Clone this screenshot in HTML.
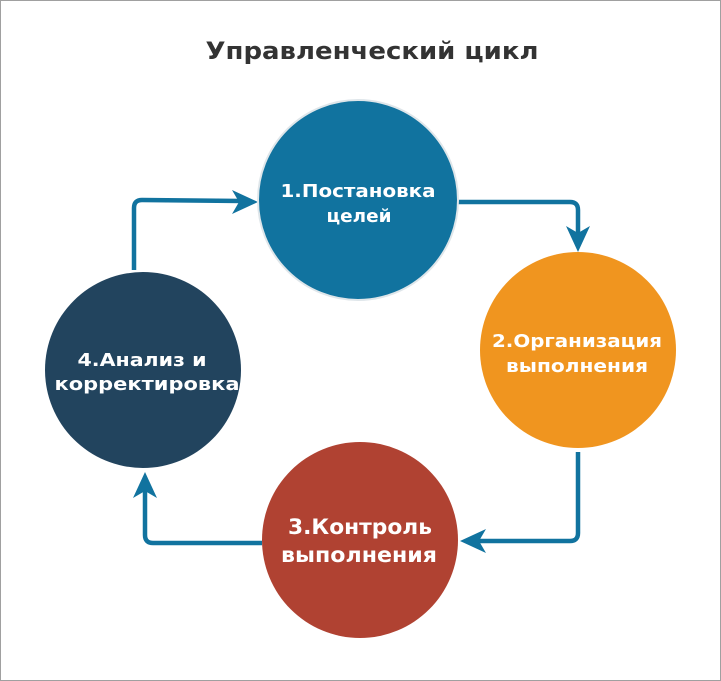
<!DOCTYPE html>
<html><head><meta charset="utf-8"><style>
html,body{margin:0;padding:0;background:#fff;}
svg{display:block;}
text{font-family:"DejaVu Sans","Liberation Sans",sans-serif;font-weight:bold;}
</style></head><body>
<svg width="721" height="681" viewBox="0 0 721 681" xmlns="http://www.w3.org/2000/svg">
<rect x="0.5" y="0.5" width="720" height="680" fill="#fff" stroke="#a0a0a0"/>
<text x="372" y="59" text-anchor="middle" font-size="24" fill="#333" textLength="333" lengthAdjust="spacingAndGlyphs">Управленческий цикл</text>
<g fill="none" stroke="#11739f" stroke-width="4.5" stroke-linejoin="round">
<path d="M458 202 H570 Q578 202 578 210 V236"/>
<path d="M578 452 V533 Q578 541 570 541 H478"/>
<path d="M262 543 H153 Q145 543 145 535 V490"/>
<path d="M134 270 V208 Q134 200 142 200 L242 201"/>
</g>
<g fill="#11739f">
<path d="M578 252 L566 226 L578 233 L590 226 Z"/>
<path d="M460 541 L486 529 L479 541 L486 553 Z"/>
<path d="M145 472 L133 498 L145 491 L157 498 Z"/>
<path d="M258 202 L232 190 L239 202 L232 214 Z"/>
</g>
<circle cx="358" cy="200" r="100" fill="#11739f" stroke="#dfe6ea" stroke-width="2"/>
<circle cx="578" cy="350" r="98" fill="#f0951f"/>
<circle cx="360" cy="540" r="98" fill="#b04232"/>
<circle cx="143" cy="370" r="98" fill="#22445e"/>
<g fill="#fff" text-anchor="middle">
<text x="358" y="197" font-size="18" textLength="155" lengthAdjust="spacingAndGlyphs">1.Постановка</text>
<text x="359" y="222" font-size="18" textLength="65" lengthAdjust="spacingAndGlyphs">целей</text>
<text x="577" y="347" font-size="18" textLength="170" lengthAdjust="spacingAndGlyphs">2.Организация</text>
<text x="577" y="372" font-size="18" textLength="142" lengthAdjust="spacingAndGlyphs">выполнения</text>
<text x="360" y="534" font-size="21" textLength="144" lengthAdjust="spacingAndGlyphs">3.Контроль</text>
<text x="359" y="562" font-size="21" textLength="156" lengthAdjust="spacingAndGlyphs">выполнения</text>
<text x="142" y="366" font-size="18" textLength="129" lengthAdjust="spacingAndGlyphs">4.Анализ и</text>
<text x="147" y="390" font-size="18" textLength="185" lengthAdjust="spacingAndGlyphs">корректировка</text>
</g>
</svg>
</body></html>
